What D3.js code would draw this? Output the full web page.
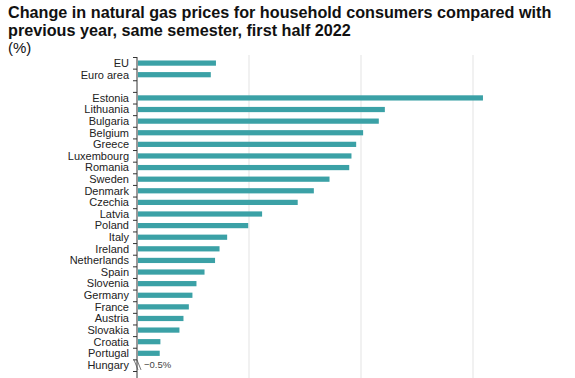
<!DOCTYPE html>
<html>
<head>
<meta charset="utf-8">
<script src="https://cdn.jsdelivr.net/npm/d3@7"></script>
<style>
  body { margin: 0; background: #fff; }
  text { font-family: "Liberation Sans", Arial, sans-serif; }
</style>
</head>
<body>
<div id="chart"></div>
<script>
// categories, top to bottom ('' is the spacer row)
const categories = ['EU', 'Euro area', '', 'Estonia', 'Lithuania', 'Bulgaria', 'Belgium', 'Greece',
  'Luxembourg', 'Romania', 'Sweden', 'Denmark', 'Czechia', 'Latvia', 'Poland', 'Italy', 'Ireland',
  'Netherlands', 'Spain', 'Slovenia', 'Germany', 'France', 'Austria', 'Slovakia', 'Croatia',
  'Portugal', 'Hungary'];
const values = [34.8, 32.5, null, 154.0, 110.2, 107.5, 100.5, 97.4, 95.3, 94.3, 85.5, 78.5, 71.3,
  55.4, 49.2, 39.8, 36.4, 34.4, 29.7, 26.1, 24.3, 22.7, 20.3, 18.5, 10.0, 9.7, -0.5];
const gridTicks = [50, 100, 150];

const config = {
  width: 575,
  height: 378,
  marginLeft: 137,
  plotTop: 57,
  plotBottom: 371,
  colour: '#3ba1a6'
};

const svg = d3.select('#chart').append('svg')
  .attr('width', config.width)
  .attr('height', config.height);

// title
const title = svg.append('g');
title.append('text').attr('x', 8).attr('y', 18)
  .style('font-size', '16.2px').style('font-weight', 'bold').attr('fill', '#111')
  .text('Change in natural gas prices for household consumers compared with');
title.append('text').attr('x', 8).attr('y', 36)
  .style('font-size', '16.2px').style('font-weight', 'bold').attr('fill', '#111')
  .text('previous year, same semester, first half 2022');
title.append('text').attr('x', 8).attr('y', 53)
  .style('font-size', '15px').attr('fill', '#111')
  .text('(%)');

const x = d3.scaleLinear().domain([0, 50]).range([config.marginLeft, config.marginLeft + 112]);
const y = d3.scaleBand().domain(categories.map((c, i) => i))
  .range([config.plotTop, config.plotBottom]).paddingInner(0.55).paddingOuter(0.3);

// grid lines
svg.append('g').selectAll('line').data(gridTicks).join('line')
  .attr('x1', d => x(d)).attr('x2', d => x(d))
  .attr('y1', config.plotTop - 2).attr('y2', config.height)
  .attr('stroke', '#e3e3e3').attr('stroke-width', 1);

// bars (Hungary is negative, shown with a break marker instead)
svg.append('g').selectAll('rect')
  .data(values.map((v, i) => ({ v, i })).filter(d => d.v !== null && d.v > 0))
  .join('rect')
  .attr('x', x(0) + 1)
  .attr('y', d => y(d.i))
  .attr('width', d => x(d.v) - x(0))
  .attr('height', y.bandwidth())
  .attr('fill', config.colour);

// y axis
const yAxis = d3.axisLeft(d3.scaleLinear().domain([0, categories.length]).range([config.plotTop, config.plotBottom]))
  .ticks(categories.length).tickSize(4).tickFormat('');
const axisG = svg.append('g').attr('transform', `translate(${x(0)},0)`).call(yAxis);
axisG.select('.domain').remove();
axisG.selectAll('.tick line').attr('stroke', '#333');
axisG.append('line').attr('x1', 0).attr('x2', 0)
  .attr('y1', config.plotTop).attr('y2', config.height).attr('stroke', '#333');

// category labels
svg.append('g').selectAll('text').data(categories).join('text')
  .attr('x', config.marginLeft - 8)
  .attr('y', (d, i) => y(i) + y.bandwidth() / 2)
  .attr('dy', '0.35em')
  .attr('text-anchor', 'end')
  .style('font-size', '11px')
  .attr('fill', '#222')
  .text(d => d);

// negative value marker
values.forEach((v, i) => {
  if (v !== null && v < 0) {
    const cy = y(i) + y.bandwidth() / 2;
    const g = svg.append('g');
    [0, 3].forEach(off => {
      g.append('line')
        .attr('x1', x(0) - 3 + off).attr('y1', cy - 5)
        .attr('x2', x(0) + 1 + off).attr('y2', cy + 5)
        .attr('stroke', '#555').attr('stroke-width', 0.8);
    });
    g.append('text')
      .attr('x', x(0) + 7).attr('y', cy).attr('dy', '0.35em')
      .style('font-size', '9.5px').attr('fill', '#444')
      .text(d3.format('.1f')(v) + '%');
  }
});
</script>
</body>
</html>
